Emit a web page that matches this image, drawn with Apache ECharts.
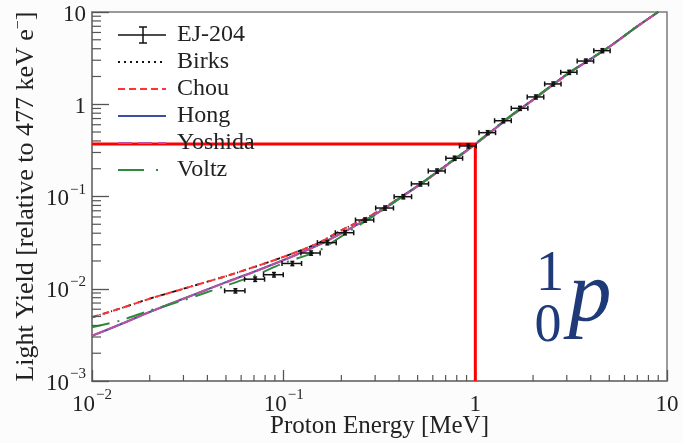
<!DOCTYPE html>
<html>
<head>
<meta charset="utf-8">
<script src="https://cdn.jsdelivr.net/npm/echarts@6/dist/echarts.min.js"></script>
<style>
html,body{margin:0;padding:0;background:#fcfcfd;}
#chart{width:683px;height:443px;}
</style>
</head>
<body>
<div id="chart"></div>
<script>
// ---- data ----
const ejEnergy    = [0.056, 0.071, 0.089, 0.111, 0.139, 0.169, 0.209, 0.266, 0.338, 0.421, 0.517, 0.632, 0.780, 0.919, 1.16, 1.40, 1.71, 2.07, 2.55, 3.09, 3.77, 4.60];
const ejYield     = [0.0095, 0.0127, 0.0142, 0.0188, 0.0244, 0.0316, 0.0405, 0.0556, 0.075, 0.0995, 0.137, 0.189, 0.260, 0.353, 0.492, 0.663, 0.904, 1.20, 1.66, 2.22, 2.94, 3.81];
const ejEnergyErr = [0.0068, 0.0085, 0.0105, 0.013, 0.016, 0.019, 0.023, 0.029, 0.036, 0.044, 0.053, 0.064, 0.078, 0.092, 0.115, 0.14, 0.17, 0.205, 0.25, 0.30, 0.37, 0.45];
const ejYieldErr  = [0.0005, 0.0007, 0.0008, 0.0010, 0.0013, 0.0017, 0.0021, 0.0029, 0.0039, 0.0052, 0.0072, 0.0098, 0.0135, 0.018, 0.025, 0.034, 0.046, 0.061, 0.085, 0.113, 0.15, 0.19];

const modelEnergy = [0.01, 0.014, 0.02, 0.03, 0.05, 0.07, 0.1, 0.15, 0.2, 0.3, 0.5, 0.7, 1, 1.5, 2, 3, 5, 7, 9];
const birks   = [0.0049, 0.0061, 0.0078, 0.0100, 0.0137, 0.0172, 0.0222, 0.031, 0.043, 0.066, 0.13, 0.215, 0.37, 0.72, 1.12, 2.1, 4.2, 7.0, 10];
const chou    = [0.0049, 0.0061, 0.0078, 0.0100, 0.0137, 0.0172, 0.0222, 0.031, 0.043, 0.066, 0.13, 0.215, 0.37, 0.72, 1.12, 2.1, 4.2, 7.0, 10];
const hong    = [0.00308, 0.0041, 0.0056, 0.0078, 0.0118, 0.0153, 0.0205, 0.0295, 0.040, 0.064, 0.13, 0.215, 0.37, 0.72, 1.12, 2.1, 4.2, 7.0, 10];
const yoshida = [0.0031, 0.0041, 0.0056, 0.0078, 0.0117, 0.0152, 0.0204, 0.0293, 0.0398, 0.064, 0.129, 0.213, 0.368, 0.715, 1.11, 2.08, 4.17, 6.95, 10];
const voltz   = [0.00382, 0.00451, 0.0058, 0.0075, 0.0108, 0.0138, 0.019, 0.0255, 0.037, 0.063, 0.13, 0.218, 0.375, 0.73, 1.13, 2.12, 4.2, 7.0, 10];

const markerEnergy = 1;      // MeV
const markerYield  = 0.37;   // relative LY
const xMin = 0.01, xMax = 10, yMin = 0.001, yMax = 10;

const legendNames = ['EJ-204', 'Birks', 'Chou', 'Hong', 'Yoshida', 'Voltz'];

// ---- helpers ----
const SERIF = '"Liberation Serif", "DejaVu Serif", serif';
function powLabel(v) {
  const e = Math.round(Math.log10(v));
  if (e === 0) return '{b|1}';
  if (e === 1) return '{b|10}';
  return '{b|10}{s|\u2212' + Math.abs(e) + '}';
}
const richLab = {
  b: { fontFamily: SERIF, fontSize: 23, color: '#222', lineHeight: 28, verticalAlign: 'bottom' },
  s: { fontFamily: SERIF, fontSize: 15, color: '#222', lineHeight: 28, verticalAlign: 'top', padding: [0, 0, 0, 1] }
};
const zip = (xs, ys) => xs.map((x, i) => [x, ys[i]]);

// minor tick positions
const minorX = [], minorY = [];
for (let d = -2; d <= 0; d++) for (let k = 2; k <= 9; k++) minorX.push(k * Math.pow(10, d));
for (let d = -3; d <= 0; d++) for (let k = 2; k <= 9; k++) minorY.push(k * Math.pow(10, d));

const chart = echarts.init(document.getElementById('chart'), null, { renderer: 'canvas' });

const lineS = (name, data, color, type, width, z) => ({
  name, type: 'line', data: zip(modelEnergy, data), showSymbol: false, symbol: 'none',
  smooth: 0.3, lineStyle: { color, type, width }, z, silent: true, clip: true
});

const option = {
  backgroundColor: '#fcfcfd',
  animation: false,
  grid: { left: 92, right: 16, top: 12, bottom: 62, containLabel: false, outerBoundsMode: 'none',
          show: true, borderColor: '#7a7a7a', borderWidth: 1.5, backgroundColor: '#ffffff' },
  xAxis: {
    type: 'log', logBase: 10, min: xMin, max: xMax,
    name: 'Proton Energy [MeV]', nameLocation: 'middle', nameGap: 33, nameMoveOverlap: false,
    nameTextStyle: { fontFamily: SERIF, fontSize: 25, color: '#222' },
    axisLine: { show: true, lineStyle: { color: '#7a7a7a', width: 1.5 } },
    axisTick: { show: true, inside: true, length: 11, lineStyle: { color: '#555', width: 1.3 } },
    splitLine: { show: false },
    axisLabel: { formatter: powLabel, rich: richLab, margin: 7 }
  },
  yAxis: {
    type: 'log', logBase: 10, min: yMin, max: yMax,
    name: 'Light Yield [relative to 477 keV e{s|\u2212}]', nameLocation: 'middle', nameGap: 51, nameRotate: 90, nameMoveOverlap: false,
    nameTextStyle: { fontFamily: SERIF, fontSize: 26, color: '#222',
      rich: { s: { fontFamily: SERIF, fontSize: 16, color: '#222', verticalAlign: 'top', lineHeight: 30 } } },
    axisLine: { show: true, lineStyle: { color: '#7a7a7a', width: 1.5 } },
    axisTick: { show: true, inside: true, length: 17, lineStyle: { color: '#555', width: 1.3 } },
    splitLine: { show: false },
    axisLabel: { formatter: powLabel, rich: richLab, margin: 6 }
  },
  series: [
    lineS('Birks', birks, '#111111', [5, 3, 1, 3], 1.8, 2),
    lineS('Chou', chou, '#ff3333', [7, 4], 2, 3),
    lineS('Hong', hong, '#3b4fa0', 'solid', 2, 4),
    lineS('Yoshida', yoshida, '#c04f9f', [14, 2], 2, 5),
    lineS('Voltz', voltz, '#2e8b3e', [18, 8, 2, 8], 2, 6),
    {
      name: 'marker', type: 'line', symbol: 'none', z: 8, silent: true,
      data: [[xMin, markerYield], [markerEnergy, markerYield], [markerEnergy, yMin]],
      lineStyle: { color: '#ff0000', width: 3 }
    },
    {
      name: 'minorX', type: 'custom', z: 9, silent: true, clip: false,
      data: minorX.map(v => [v, yMin]),
      renderItem: (params, api) => {
        const p = api.coord([api.value(0), api.value(1)]);
        return { type: 'line', shape: { x1: p[0], y1: p[1], x2: p[0], y2: p[1] - 6 }, style: { stroke: '#555', lineWidth: 1.2 } };
      }
    },
    {
      name: 'minorY', type: 'custom', z: 9, silent: true, clip: false,
      data: minorY.map(v => [xMin, v]),
      renderItem: (params, api) => {
        const p = api.coord([api.value(0), api.value(1)]);
        return { type: 'line', shape: { x1: p[0], y1: p[1], x2: p[0] + 9, y2: p[1] }, style: { stroke: '#555', lineWidth: 1.2 } };
      }
    },
    {
      name: 'EJ-204', type: 'custom', z: 10, silent: true,
      data: ejEnergy.map((e, i) => [e, ejYield[i], e - ejEnergyErr[i], e + ejEnergyErr[i], ejYield[i] - ejYieldErr[i], ejYield[i] + ejYieldErr[i]]),
      renderItem: (params, api) => {
        const c = api.coord([api.value(0), api.value(1)]);
        const l = api.coord([api.value(2), api.value(1)]);
        const r = api.coord([api.value(3), api.value(1)]);
        const lo = api.coord([api.value(0), api.value(4)]);
        const hi = api.coord([api.value(0), api.value(5)]);
        const st = { stroke: '#111', lineWidth: 1.5 };
        const cap = 2.5;
        return {
          type: 'group', children: [
            { type: 'line', shape: { x1: l[0], y1: c[1], x2: r[0], y2: c[1] }, style: st },
            { type: 'line', shape: { x1: l[0], y1: c[1] - cap, x2: l[0], y2: c[1] + cap }, style: st },
            { type: 'line', shape: { x1: r[0], y1: c[1] - cap, x2: r[0], y2: c[1] + cap }, style: st },
            { type: 'line', shape: { x1: c[0], y1: lo[1], x2: c[0], y2: hi[1] }, style: st },
            { type: 'line', shape: { x1: c[0] - 2, y1: lo[1], x2: c[0] + 2, y2: lo[1] }, style: st },
            { type: 'line', shape: { x1: c[0] - 2, y1: hi[1], x2: c[0] + 2, y2: hi[1] }, style: st },
            { type: 'circle', shape: { cx: c[0], cy: c[1], r: 1.8 }, style: { fill: '#111' } }
          ]
        };
      }
    }
  ],
  graphic: []
};

// ---- legend (drawn as graphic elements, text kept as real text) ----
const legendTop = 35, legendStep = 27, lx1 = 118, lx2 = 166, tx = 177;
const legendStyles = [
  null,
  { stroke: '#111', lineDash: [2, 4] },
  { stroke: '#ff3333', lineDash: [7, 4] },
  { stroke: '#3b4fa0', lineDash: null },
  { stroke: '#c04f9f', lineDash: [14, 6] },
  { stroke: '#2e8b3e', lineDash: [26, 12, 2, 12] }
];
legendNames.forEach((name, i) => {
  const y = legendTop + i * legendStep;
  if (i === 0) {
    option.graphic.push({ type: 'line', shape: { x1: lx1, y1: y, x2: lx2, y2: y }, style: { stroke: '#111', lineWidth: 1.5 }, z: 20 });
    option.graphic.push({ type: 'line', shape: { x1: 143, y1: y - 8, x2: 143, y2: y + 8 }, style: { stroke: '#111', lineWidth: 1.5 }, z: 20 });
    option.graphic.push({ type: 'line', shape: { x1: 139, y1: y - 8, x2: 147, y2: y - 8 }, style: { stroke: '#111', lineWidth: 1.5 }, z: 20 });
    option.graphic.push({ type: 'line', shape: { x1: 139, y1: y + 8, x2: 147, y2: y + 8 }, style: { stroke: '#111', lineWidth: 1.5 }, z: 20 });
  } else {
    const s = legendStyles[i];
    option.graphic.push({ type: 'line', shape: { x1: lx1, y1: y, x2: lx2, y2: y }, style: { stroke: s.stroke, lineWidth: 1.8, lineDash: s.lineDash }, z: 20 });
  }
  option.graphic.push({ type: 'text', x: tx, y: y, z: 20,
    style: { text: name, font: '24px ' + SERIF, fill: '#222', textAlign: 'left', textVerticalAlign: 'middle' } });
});

// nuclide symbol
option.graphic.push({ type: 'text', x: 550, y: 275, z: 30, style: { text: '1', font: '57px ' + SERIF, fill: '#1f3a78', textAlign: 'center', textVerticalAlign: 'middle' } });
option.graphic.push({ type: 'text', x: 548, y: 327, z: 30, style: { text: '0', font: '54px ' + SERIF, fill: '#1f3a78', textAlign: 'center', textVerticalAlign: 'middle' } });
option.graphic.push({ type: 'text', x: 590, y: 297, z: 30, style: { text: 'p', font: 'italic 86px ' + SERIF, fill: '#1f3a78', textAlign: 'center', textVerticalAlign: 'middle' } });

chart.setOption(option);
</script>
</body>
</html>
